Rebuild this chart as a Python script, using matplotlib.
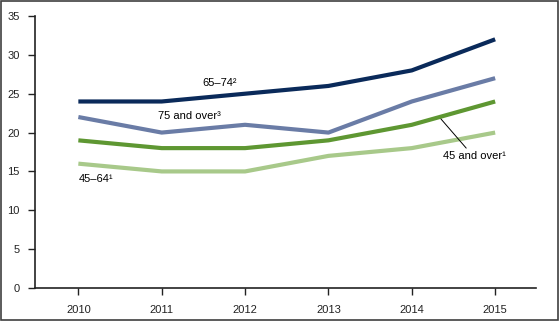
import numpy as np
import matplotlib.pyplot as plt

plt.rcParams['font.family'] = ['Liberation Sans', 'DejaVu Sans']

years = [2010, 2011, 2012, 2013, 2014, 2015]
age_65_74 = [24, 24, 25, 26, 28, 32]
age_75_over = [22, 20, 21, 20, 24, 27]
age_45_over = [19, 18, 18, 19, 21, 24]
age_45_64 = [16, 15, 15, 17, 18, 20]

fig = plt.figure(figsize=(5.6, 3.21), dpi=100)
fig.patches.append(plt.Rectangle((0.002, 0.003), 0.995, 0.993, transform=fig.transFigure,
                                 fill=False, edgecolor='#404040', linewidth=1.2))
ax = fig.add_axes([35/560, 1 - 288/321, (536-35)/560, (288-16)/321])

lw = 3.0
ax.plot(years, age_45_64, color='#a8c98a', lw=lw, solid_capstyle='butt')
ax.plot(years, age_45_over, color='#5e9732', lw=lw, solid_capstyle='butt')
ax.plot(years, age_75_over, color='#6a7ca6', lw=lw, solid_capstyle='butt')
ax.plot(years, age_65_74, color='#0a2a5a', lw=lw, solid_capstyle='butt')

ax.set_xlim(2009.48, 2015.49)
ax.set_ylim(0, 35)
ax.set_xticks(years)
ax.set_yticks(range(0, 36, 5))
for s in ['top', 'right']:
    ax.spines[s].set_visible(False)
for s in ['left', 'bottom']:
    ax.spines[s].set_linewidth(1.2)
    ax.spines[s].set_color('#222222')
ax.tick_params(direction='out', length=5, width=1, labelsize=8, colors='#222222', pad=7)
ax.tick_params(axis='y', pad=6)

fs = 8
ax.text(2011.70, 26.4, '65–74²', fontsize=fs, ha='center', va='center')
ax.text(2010.96, 22.1, '75 and over³', fontsize=fs, ha='left', va='center')
ax.text(2010.0, 14.0, '45–64¹', fontsize=fs, ha='left', va='center')
ax.annotate('45 and over¹', xy=(2014.35, 21.75), xytext=(2014.38, 17.0),
            fontsize=fs, ha='left', va='center',
            arrowprops=dict(arrowstyle='-', color='black', lw=0.7,
                            shrinkA=0, shrinkB=0, relpos=(0.4, 1.0)))

fig.savefig('out.png', dpi=100)
